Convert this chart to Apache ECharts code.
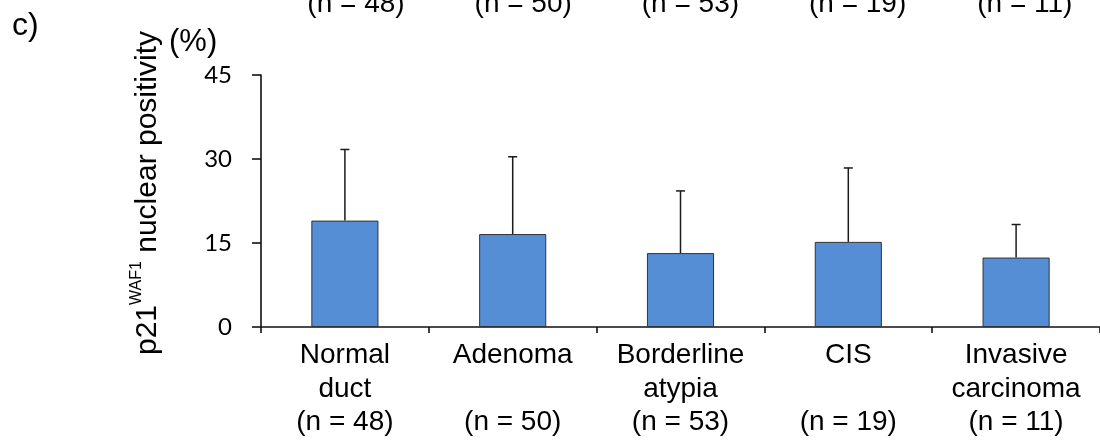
<!DOCTYPE html>
<html>
<head>
<meta charset="utf-8">
<script src="https://cdn.jsdelivr.net/npm/echarts@6/dist/echarts.min.js"></script>
<style>
html,body{margin:0;padding:0;background:#fff;}
#c{width:1100px;height:446px;}
</style>
</head>
<body>
<div id="c"></div>
<script>
// Data
const catLine1 = ['Normal', 'Adenoma', 'Borderline', 'CIS', 'Invasive'];
const catLine2 = ['duct', '', 'atypia', '', 'carcinoma'];
const nCounts = [48, 50, 53, 19, 11];
const means = [19.0, 16.6, 13.2, 15.2, 12.4];
const sds = [12.7, 13.8, 11.1, 13.2, 5.9];
const yTicks = [0, 15, 30, 45];
const prevPanelN = [48, 50, 53, 19, 11];

const categories = catLine1.map((a, i) => a + '\n' + catLine2[i] + '\n(n = ' + nCounts[i] + ')');
const errData = means.map((m, i) => [i, m, m + sds[i]]);

const chart = echarts.init(document.getElementById('c'), null, {renderer: 'canvas'});

const SANS = '"Liberation Sans", Arial, sans-serif';

const topTexts = prevPanelN.map((n, i) => ({
  type: 'text',
  x: 356 + i * 167.2,
  y: 4,
  style: {
    text: '(n = ' + n + ')',
    fontFamily: SANS,
    fontSize: 28,
    fill: '#000',
    align: 'center',
    verticalAlign: 'middle'
  }
}));

chart.setOption({
  animation: false,
  grid: {left: 261, right: -6, top: 75, bottom: 119, containLabel: false},
  xAxis: {
    type: 'category',
    data: categories,
    boundaryGap: true,
    axisLine: {lineStyle: {color: '#111', width: 1.6}},
    axisTick: {show: true, length: 6, lineStyle: {color: '#111', width: 1.6}},
    axisLabel: {
      interval: 0,
      margin: 12,
      color: '#000',
      fontFamily: SANS,
      fontSize: 28,
      lineHeight: 33.5
    }
  },
  yAxis: {
    type: 'value',
    min: 0,
    max: 45,
    interval: 15,
    axisLine: {show: true, lineStyle: {color: '#111', width: 1.6}},
    axisTick: {show: true, length: 9, lineStyle: {color: '#111', width: 1.6}},
    splitLine: {show: false},
    axisLabel: {
      margin: 29,
      color: '#000',
      fontFamily: 'Lato, "Open Sans", sans-serif',
      fontSize: 24,
      formatter: v => yTicks.includes(v) ? String(v) : ''
    }
  },
  series: [
    {
      type: 'bar',
      data: means,
      barWidth: '40%',
      itemStyle: {color: '#558ED5', borderColor: '#333', borderWidth: 1}
    },
    {
      type: 'custom',
      data: errData,
      z: 5,
      renderItem: function (params, api) {
        const i = api.value(0);
        const lo = api.coord([i, api.value(1)]);
        const hi = api.coord([i, api.value(2)]);
        const hw = 4.5;
        const st = {stroke: '#1a1a1a', lineWidth: 1.5};
        return {
          type: 'group',
          children: [
            {type: 'line', shape: {x1: lo[0], y1: lo[1], x2: hi[0], y2: hi[1]}, style: st},
            {type: 'line', shape: {x1: hi[0] - hw, y1: hi[1], x2: hi[0] + hw, y2: hi[1]}, style: st}
          ]
        };
      }
    }
  ],
  graphic: [
    {
      type: 'text',
      x: 12,
      y: 26,
      style: {
        text: 'c)',
        fontFamily: SANS,
        fontSize: 32,
        fill: '#000',
        align: 'left',
        verticalAlign: 'middle'
      }
    },
    {
      type: 'text',
      x: 146,
      y: 193,
      rotation: Math.PI / 2,
      style: {
        text: '{a|p21}{b|WAF1}{a| nuclear positivity}',
        align: 'center',
        verticalAlign: 'middle',
        rich: {
          a: {fontFamily: SANS, fontSize: 30, fill: '#000', lineHeight: 34, verticalAlign: 'bottom'},
          b: {fontFamily: SANS, fontSize: 16, fill: '#000', lineHeight: 34, verticalAlign: 'top'}
        }
      }
    },
    {
      type: 'text',
      x: 169,
      y: 42,
      style: {
        text: '(%)',
        fontFamily: SANS,
        fontSize: 31,
        fill: '#000',
        align: 'left',
        verticalAlign: 'middle'
      }
    }
  ].concat(topTexts)
});
</script>
</body>
</html>
